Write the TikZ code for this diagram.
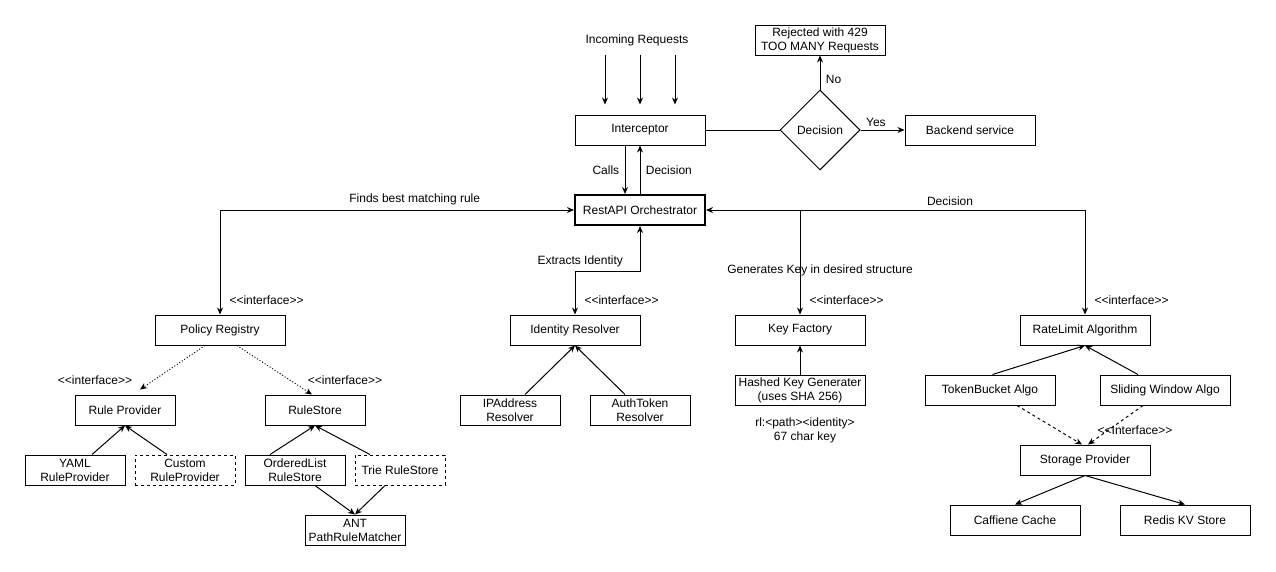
\documentclass[tikz,border=0pt]{standalone}
\usepackage{fontspec}
\setmainfont{Liberation Sans}
\usetikzlibrary{shapes.geometric,arrows.meta}
\tikzset{
    box/.style={draw,line width=1pt,minimum width=130,minimum height=30,inner sep=0pt,align=center},
    smallbox/.style={box,minimum width=100},
    arr/.style={line width=1pt,-{Stealth[length=7pt,width=6pt]}},
    biarr/.style={line width=1pt,{Stealth[length=7pt,width=6pt]}-{Stealth[length=7pt,width=6pt]}},
    dotarr/.style={arr,dash pattern=on 1pt off 2pt},
    dasharr/.style={arr,dash pattern=on 3pt off 3pt},
    dashbox/.style={smallbox,dash pattern=on 3pt off 3pt}
}
\begin{document}
\begin{tikzpicture}[x=1pt,y=-1pt,font=\fontsize{12}{14}\selectfont]
    \useasboundingbox (0,0) rectangle (1276,571);
    %% top row
    \node (inreq) at (637,40) {Incoming Requests};
    \node[box] (inter) at (640,130) {Interceptor};
    \node[draw,line width=1pt,shape=diamond,minimum width=80,minimum height=80,inner sep=0pt] (dec) at (820,130) {Decision};
    \node[box] (backend) at (970,130) {Backend service};
    \node[box] (reject) at (820,40) {Rejected with 429\\TOO MANY Requests};
    \node[box,line width=2pt] (orch) at (640,210) {RestAPI Orchestrator};
    \foreach \dx in {-35,0,35}
        \draw[arr] ([xshift=\dx,yshift=60]inter.north) -- ([xshift=\dx,yshift=10]inter.north);
    \draw[line width=1pt] (inter.east) -- (dec.west);
    \draw[arr] (dec.east) -- (backend.west) node[pos=0.35,above] (yes) {Yes};
    \draw[arr] (dec.north) -- (reject.south) node[pos=0.3,right,xshift=2] (no) {No};
    \draw[arr] ([xshift=-15]inter.south) -- ([xshift=-15]orch.north) node[midway,left,xshift=-2] (calls) {Calls};
    \draw[arr] (orch.north) -- (inter.south) node[midway,right,xshift=2] (decup) {Decision};
    %% second row
    \node[box] (policy) at (220,330) {Policy Registry};
    \node[box] (idres) at (575,330) {Identity Resolver};
    \node[box] (keyf) at (800,330) {Key Factory};
    \node[box] (rlalgo) at (1085,330) {RateLimit Algorithm};
    \draw[biarr] (policy.north) |- (orch.west) node[pos=0.775,above,yshift=1] (finds) {Finds best matching rule};
    \draw[biarr] (orch.south) -- ++(0,45) -| (idres.north) node[pos=0.46,above] (extr) {Extracts Identity};
    \draw[biarr] (rlalgo.north) |- (orch.east) node[pos=0.678,above,yshift=1] (decr) {Decision};
    \draw[arr] (keyf.north |- orch.east) -- (keyf.north);
    \node (gen) at (820,270) {Generates Key in desired structure};
    \foreach \n in {policy,idres,keyf,rlalgo}
        \node[anchor=south west,xshift=6,yshift=6] at (\n.north) {<{}<interface>{}>};
    %% policy registry
    \node[smallbox] (rprov) at (125,410) {Rule Provider};
    \node[smallbox] (rstore) at (315,410) {RuleStore};
    \node (ifrp) at (95,380) {<{}<interface>{}>};
    \node (ifrs) at (345,380) {<{}<interface>{}>};
    \draw[dotarr] ([xshift=-15]policy.south) -- ([xshift=15,yshift=5]rprov.north);
    \draw[dotarr] ([xshift=17]policy.south) -- ([xshift=-3]rstore.north);
    \node[smallbox] (yaml) at (75,470) {YAML\\RuleProvider};
    \node[dashbox] (custom) at (185,470) {Custom\\RuleProvider};
    \node[smallbox] (olist) at (295,470) {OrderedList\\RuleStore};
    \node[dashbox,minimum width=90] (trie) at (400,470) {Trie RuleStore};
    \node[smallbox] (ant) at (355,530) {ANT\\PathRuleMatcher};
    \draw[arr] ([xshift=17]yaml.north) -- (rprov.south);
    \draw[arr] ([xshift=-18]custom.north) -- (rprov.south);
    \draw[arr] ([xshift=-25]olist.north) -- (rstore.south);
    \draw[arr] ([xshift=-30]trie.north) -- (rstore.south);
    \draw[arr] ([xshift=20]olist.south) -- (ant.north);
    \draw[arr] ([xshift=-15]trie.south) -- (ant.north);
    %% identity resolver
    \node[smallbox] (ipres) at (510,410) {IPAddress\\Resolver};
    \node[smallbox] (authres) at (640,410) {AuthToken\\Resolver};
    \draw[arr] ([xshift=15]ipres.north) -- (idres.south);
    \draw[arr] ([xshift=-15]authres.north) -- (idres.south);
    %% key factory
    \node[box] (hashed) at (800,390) {Hashed Key Generater\\(uses SHA 256)};
    \draw[arr] (hashed.north) -- (keyf.south);
    \node[align=center] (keyfmt) at (805,430) {rl:<path><identity>\\67 char key};
    %% rate limit algorithm
    \node[box] (token) at (990,390) {TokenBucket Algo};
    \node[box] (sliding) at (1165,390) {Sliding Window Algo};
    \node[box] (storage) at (1085,460) {Storage Provider};
    \node[box] (caff) at (1015,520) {Caffiene Cache};
    \node[box] (redis) at (1185,520) {Redis KV Store};
    \draw[arr] ([xshift=-63]token.north east) -- (rlalgo.south);
    \draw[arr] ([xshift=-27]sliding.north) -- (rlalgo.south);
    \draw[dasharr] ([xshift=27]token.south) -- ([xshift=-3]storage.north);
    \draw[dasharr] ([xshift=-22]sliding.south) -- ([xshift=3]storage.north);
    \node (ifsp) at (1135,430) {<{}<Interface>{}>};
    \draw[arr] (storage.south) -- (caff.north);
    \draw[arr] (storage.south) -- (redis.north);
\end{tikzpicture}
\end{document}
